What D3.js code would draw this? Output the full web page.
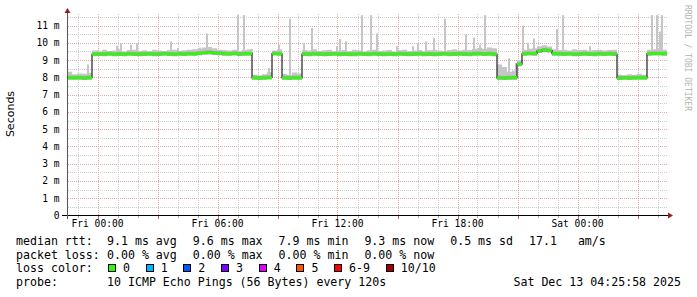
<!DOCTYPE html>
<html lang="en">
<head>
<meta charset="UTF-8">
<title>smokeping</title>
<style>
    body { margin: 0; background: #fff; }
    svg { display: block; }
    text { font-family: 'DejaVu Sans Mono', monospace; fill: #000; }
    .tick-label { font-size: 9.6px; }
    .legend { font-size: 11.6px; white-space: pre; }
    .ylabel { font-family: 'DejaVu Sans', sans-serif; font-size: 11px; }
    .credit { font-size: 8px; fill: #b4b4b4; }
    .grid-minor { stroke: #cccccc; stroke-dasharray: 1, 1; shape-rendering: crispEdges; }
    .grid-major { stroke: #e4aaaa; stroke-dasharray: 1, 1; shape-rendering: crispEdges; }
    .axis-line { stroke: #000; shape-rendering: crispEdges; }
    .smoke { fill: #c6c6c6; }
    .smoke-core { fill: none; stroke: #a4a4a4; stroke-width: 4px; }
    .median { fill: none; stroke: #202020; stroke-width: 1.2px; }
    .median-loss { fill: none; stroke: #26ff00; stroke-width: 2.6px; }
    .arrow { fill: #9b1c1c; }
</style>
</head>
<body>
<script src="https://cdn.jsdelivr.net/npm/d3@7"></script>
<script>
    // 15 minute buckets starting Thu Dec 11 22:28:30
    const startTime = new Date(2025, 11, 11, 22, 28, 30);
    const endTime = new Date(2025, 11, 13, 4, 31, 30);
    const stepMinutes = 15;

    const median = [
        7.98, 7.97, 7.98, 7.96, 7.98,
        9.33, 9.35, 9.34, 9.36, 9.33, 9.35, 9.34, 9.36, 9.35, 9.33,
        9.35, 9.36, 9.34, 9.35, 9.37, 9.35, 9.34, 9.36, 9.35, 9.37,
        9.36, 9.39, 9.42, 9.44, 9.41, 9.39, 9.37, 9.36, 9.38, 9.35,
        9.36, 9.37,
        7.97, 7.96, 7.97, 7.99,
        9.38, 9.36,
        7.97, 7.96, 7.98, 7.97,
        9.35, 9.34, 9.36, 9.35, 9.33, 9.35, 9.36, 9.34, 9.35, 9.33,
        9.34, 9.36, 9.35, 9.34, 9.36, 9.35, 9.33, 9.35, 9.34, 9.36,
        9.35, 9.34, 9.35, 9.36, 9.34, 9.35, 9.33, 9.35, 9.36, 9.34,
        9.35, 9.36, 9.35, 9.34, 9.36, 9.37, 9.35, 9.36, 9.34,
        7.97, 7.96, 7.97, 7.98,
        8.76,
        9.36, 9.38, 9.37,
        9.52, 9.58, 9.55,
        9.37, 9.36, 9.35, 9.36, 9.34, 9.35, 9.36, 9.35, 9.34, 9.36,
        9.35, 9.36, 9.35,
        7.96, 7.97, 7.96, 7.97, 7.98, 7.97,
        9.37, 9.38, 9.38, 9.37
    ];

    const smokeTop = [
        8.32, 8.18, 8.22, 8.2, 8.26,
        9.55, 9.5, 9.6, 9.52, 9.55, 9.62, 9.5, 9.58, 9.6, 9.52,
        9.56, 9.5, 9.6, 9.55, 9.52, 9.58, 9.6, 9.54, 9.56, 9.6,
        9.62, 9.66, 9.72, 9.75, 9.68, 9.6, 9.58, 9.55, 9.6, 9.52,
        9.58, 9.62,
        8.15, 8.12, 8.18, 8.3,
        9.55, 9.62,
        8.2, 8.15, 8.28, 8.22,
        9.58, 9.55, 9.62, 9.52, 9.56, 9.6, 9.5, 9.55, 9.58, 9.52,
        9.6, 9.55, 9.5, 9.57, 9.6, 9.52, 9.55, 9.58, 9.5, 9.56,
        9.6, 9.53, 9.55, 9.58, 9.52, 9.56, 9.6, 9.55, 9.5, 9.58,
        9.62, 9.55, 9.6, 9.58, 9.65, 9.7, 9.66, 9.72, 9.68,
        8.74, 8.6, 8.32, 8.4,
        9.0,
        9.6, 9.65, 9.68,
        9.8, 9.86, 9.78,
        9.62, 9.58, 9.6, 9.55, 9.62, 9.58, 9.6, 9.55, 9.58, 9.6,
        9.55, 9.58, 9.6,
        8.15, 8.12, 8.18, 8.15, 8.2, 8.15,
        9.6, 9.62, 9.65, 9.6
    ];

    // single slow pings sticking out of the smoke
    const spikes = [
        ['2025-12-11 23:30', 8.74], ['2025-12-11 23:57', 9.56], ['2025-12-12 00:57', 9.83],
        ['2025-12-12 01:10', 9.95], ['2025-12-12 01:39', 9.89], ['2025-12-12 01:57', 9.97],
        ['2025-12-12 03:39', 10.08], ['2025-12-12 04:01', 9.7], ['2025-12-12 05:07', 9.72],
        ['2025-12-12 05:27', 10.54], ['2025-12-12 07:01', 11.6], ['2025-12-12 07:18', 11.6],
        ['2025-12-12 07:42', 9.65], ['2025-12-12 08:35', 8.54], ['2025-12-12 09:05', 9.89],
        ['2025-12-12 09:36', 11.4], ['2025-12-12 10:19', 9.97], ['2025-12-12 10:42', 10.86],
        ['2025-12-12 11:59', 9.8], ['2025-12-12 12:07', 10.22], ['2025-12-12 12:24', 10.09],
        ['2025-12-12 13:12', 11.6], ['2025-12-12 13:39', 11.6], ['2025-12-12 13:59', 10.55],
        ['2025-12-12 14:57', 9.8], ['2025-12-12 15:47', 9.8], ['2025-12-12 16:02', 9.97],
        ['2025-12-12 16:25', 10.08], ['2025-12-12 16:49', 10.28], ['2025-12-12 17:22', 11.4],
        ['2025-12-12 18:27', 10.47], ['2025-12-12 18:49', 10.3], ['2025-12-12 19:07', 9.9],
        ['2025-12-12 19:22', 11.6], ['2025-12-12 20:34', 9.1], ['2025-12-12 20:55', 8.83],
        ['2025-12-12 21:17', 11.0], ['2025-12-12 21:30', 10.0], ['2025-12-12 21:49', 10.25],
        ['2025-12-12 22:57', 10.8], ['2025-12-12 23:15', 11.6], ['2025-12-13 00:37', 9.8],
        ['2025-12-13 03:42', 11.6], ['2025-12-13 03:58', 11.6], ['2025-12-13 04:07', 10.65],
        ['2025-12-13 04:13', 11.6]
    ];

    const yTickValues = [0, 1, 2, 3, 4, 5, 6, 7, 8, 9, 10, 11];
    const yTickLabels = ['0', '1 m', '2 m', '3 m', '4 m', '5 m', '6 m', '7 m', '8 m', '9 m', '10 m', '11 m'];

    const rttStats = ['9.1 ms avg', '9.6 ms max', '7.9 ms min', '9.3 ms now', '0.5 ms sd', '17.1   am/s'];
    const lossStats = ['0.00 % avg', '0.00 % max', '0.00 % min', '0.00 % now'];
    const lossLabels = ['0', '1', '2', '3', '4', '5', '6-9', '10/10'];
    const lossColors = ['#26ff00', '#00b8ff', '#0059ff', '#7e00ff', '#dd00ff', '#ff5500', '#ff0000', '#a10000'];
    const probeText = '10 ICMP Echo Pings (56 Bytes) every 120s';
    const stampText = 'Sat Dec 13 04:25:58 2025';

    const width = 697;
    const height = 297;
    const plotLeft = 67, plotRight = 668, plotTop = 14, plotBottom = 215.5;
    const charW = 6.98;

    const xScale = d3.scaleTime().domain([startTime, endTime]).range([plotLeft, plotRight]);
    const yScale = d3.scaleLinear().domain([0, 11]).range([plotBottom, 25.5]);

    const svg = d3.select('body').append('svg')
        .attr('width', width)
        .attr('height', height);

    svg.append('clipPath').attr('id', 'plot')
        .append('rect')
        .attr('x', plotLeft).attr('y', plotTop)
        .attr('width', plotRight - plotLeft).attr('height', plotBottom - plotTop);

    // grid
    const grid = svg.append('g');
    const halfSteps = d3.range(1, 24).map(d => d / 2);
    grid.selectAll('.h')
        .data(halfSteps)
        .enter().append('line')
        .attr('class', d => d % 1 === 0 ? 'grid-major' : 'grid-minor')
        .attr('x1', plotLeft + 1).attr('x2', plotRight)
        .attr('y1', d => Math.round(yScale(d)) + 0.5)
        .attr('y2', d => Math.round(yScale(d)) + 0.5);

    const hours = d3.timeHour.every(1).range(startTime, endTime);
    grid.selectAll('.v')
        .data(hours)
        .enter().append('line')
        .attr('class', d => d.getHours() % 3 === 0 ? 'grid-major' : 'grid-minor')
        .attr('x1', d => Math.round(xScale(d)) + 0.5)
        .attr('x2', d => Math.round(xScale(d)) + 0.5)
        .attr('y1', plotTop).attr('y2', plotBottom);

    // tick marks under the time axis
    grid.selectAll('.vt')
        .data(hours)
        .enter().append('line')
        .style('stroke', d => d.getHours() % 3 === 0 ? '#c06060' : '#aaa')
        .style('shape-rendering', 'crispEdges')
        .attr('x1', d => Math.round(xScale(d)) + 0.5)
        .attr('x2', d => Math.round(xScale(d)) + 0.5)
        .attr('y1', plotBottom).attr('y2', d => d.getHours() % 3 === 0 ? plotBottom + 3 : plotBottom + 2);

    const times = d3.range(median.length + 1).map(i => d3.timeMinute.offset(startTime, i * stepMinutes));
    const points = median.map((m, i) => ({ t: times[i], m: m, top: smokeTop[i] }));
    const linePoints = points.concat([{ t: times[median.length], m: median[median.length - 1], top: smokeTop[median.length - 1] }]);

    const plot = svg.append('g').attr('clip-path', 'url(#plot)');

    plot.append('path')
        .datum(linePoints)
        .attr('class', 'smoke')
        .attr('d', d3.area()
            .curve(d3.curveStepAfter)
            .x(d => xScale(d.t))
            .y0(d => yScale(d.m))
            .y1(d => yScale(d.top)));

    const parseTime = d3.timeParse('%Y-%m-%d %H:%M');
    const bucketOf = t => Math.min(median.length - 1, Math.floor((t - startTime) / (stepMinutes * 60000)));
    plot.selectAll('.spike')
        .data(spikes)
        .enter().append('rect')
        .attr('class', 'smoke')
        .attr('x', d => Math.round(xScale(parseTime(d[0]))) - 1)
        .attr('width', 2)
        .attr('y', d => yScale(d[1]))
        .attr('height', d => yScale(median[bucketOf(parseTime(d[0]))]) - yScale(d[1]));

    const segments = points.map((d, i) => `M${xScale(d.t)},${yScale(d.m)}H${xScale(times[i + 1])}`).join('');

    plot.append('path')
        .attr('class', 'smoke-core')
        .attr('d', segments);

    plot.append('path')
        .datum(linePoints)
        .attr('class', 'median')
        .attr('d', d3.line()
            .curve(d3.curveStepAfter)
            .x(d => xScale(d.t))
            .y(d => yScale(d.m)));

    plot.append('path')
        .attr('class', 'median-loss')
        .attr('d', segments);

    // axes
    svg.append('line').attr('class', 'axis-line')
        .attr('x1', plotLeft - 5).attr('x2', plotRight + 1)
        .attr('y1', plotBottom).attr('y2', plotBottom);
    svg.append('line').attr('class', 'axis-line')
        .style('stroke', '#555')
        .attr('x1', plotLeft + 0.5).attr('x2', plotLeft + 0.5)
        .attr('y1', plotBottom + 3).attr('y2', plotTop - 2);
    svg.append('path').attr('class', 'arrow')
        .attr('d', `M${plotRight},${plotBottom - 3}L${plotRight + 5},${plotBottom}L${plotRight},${plotBottom + 3}Z`);
    svg.append('path').attr('class', 'arrow')
        .attr('d', `M${plotLeft - 2.5},${plotTop - 1}L${plotLeft + 0.5},${plotTop - 6}L${plotLeft + 3.5},${plotTop - 1}Z`);

    svg.selectAll('.ytick')
        .data(yTickValues)
        .enter().append('text')
        .attr('class', 'tick-label')
        .attr('text-anchor', 'end')
        .attr('x', 59.5)
        .attr('y', d => yScale(d) + 3.5)
        .text((d, i) => yTickLabels[i]);

    const xTicks = d3.timeHour.every(6).range(startTime, endTime);
    svg.selectAll('.xtick')
        .data(xTicks)
        .enter().append('text')
        .attr('class', 'tick-label')
        .attr('text-anchor', 'middle')
        .attr('x', d => xScale(d))
        .attr('y', 227)
        .text(d3.timeFormat('%a %H:%M'));

    svg.append('text')
        .attr('class', 'ylabel')
        .attr('text-anchor', 'middle')
        .attr('transform', 'translate(14, 114) rotate(-90)')
        .text('Seconds');

    svg.append('text')
        .attr('class', 'credit')
        .attr('transform', 'translate(685, 5) rotate(90)')
        .text('RRDTOOL / TOBI OETIKER');

    // legend
    const legend = svg.append('g');
    const rows = [245, 258.6, 272.3, 286];

    function row(label, items, y) {
        legend.append('text').attr('class', 'legend').attr('x', 16).attr('y', y).text(label);
        let x = 107;
        items.forEach(s => {
            legend.append('text').attr('class', 'legend').attr('x', x).attr('y', y).text(s);
            x += s.length * charW + 16;
        });
    }
    row('median rtt:', rttStats, rows[0]);
    row('packet loss:', lossStats, rows[1]);
    row('probe:', [probeText], rows[3]);

    legend.append('text').attr('class', 'legend').attr('x', 16).attr('y', rows[2]).text('loss color:');
    let lx = 108;
    lossLabels.forEach((s, i) => {
        legend.append('rect')
            .attr('x', Math.round(lx) + 0.5).attr('y', rows[2] - 7.8)
            .attr('width', 7).attr('height', 7)
            .attr('fill', lossColors[i])
            .attr('stroke', '#000');
        legend.append('text').attr('class', 'legend')
            .attr('x', lx + 15).attr('y', rows[2]).text(s);
        lx += 15 + s.length * charW + 15.7;
    });

    legend.append('text').attr('class', 'legend')
        .attr('text-anchor', 'end')
        .attr('x', 681).attr('y', rows[3])
        .text(stampText);
</script>
</body>
</html>
